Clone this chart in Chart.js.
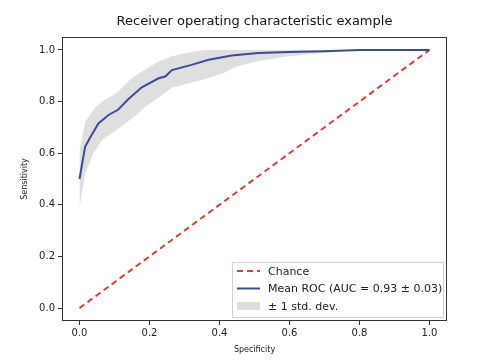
<!DOCTYPE html>
<html lang="en">
<head>
  <meta charset="UTF-8">
  <title>ROC example</title>
  <script src="https://cdn.jsdelivr.net/npm/chart.js"></script>
  <style>
    html, body { margin: 0; padding: 0; background: #fff; }
    #wrap { width: 497px; height: 361px; }
  </style>
</head>
<body>
  <div id="wrap"><canvas id="roc"></canvas></div>

  <script>
    // mean ROC curve
    const meanX = [0, 0.016, 0.03, 0.054, 0.083, 0.11, 0.14, 0.178, 0.226, 0.245, 0.264, 0.32, 0.369, 0.435, 0.511, 0.6, 0.7, 0.8, 1.0];
    const meanY = [0.50, 0.625, 0.66, 0.715, 0.748, 0.768, 0.81, 0.855, 0.89, 0.897, 0.922, 0.942, 0.962, 0.978, 0.988, 0.992, 0.995, 1.0, 1.0];

    // +/- 1 std band
    const bandX = [0, 0.016, 0.04, 0.064, 0.09, 0.111, 0.14, 0.169, 0.188, 0.226, 0.264, 0.31, 0.36, 0.41, 0.454, 0.511, 0.6, 0.7, 0.8, 1.0];
    const bandUpper = [0.61, 0.72, 0.77, 0.80, 0.82, 0.84, 0.88, 0.91, 0.925, 0.955, 0.975, 0.99, 1, 1, 1, 1, 1, 1, 1, 1];
    const bandLower = [0.39, 0.52, 0.60, 0.65, 0.675, 0.695, 0.725, 0.756, 0.78, 0.815, 0.853, 0.87, 0.887, 0.91, 0.938, 0.957, 0.975, 0.99, 1.0, 1.0];

    const chanceX = [0, 1];
    const chanceY = [0, 1];

    const xTicks = [0, 0.2, 0.4, 0.6, 0.8, 1.0];
    const yTicks = [0, 0.2, 0.4, 0.6, 0.8, 1.0];

    const TITLE = 'Receiver operating characteristic example';

    const pts = (xs, ys) => xs.map((x, i) => ({ x: x, y: ys[i] }));

    const FONT = "'DejaVu Sans', sans-serif";
    const RED = '#d9403a';
    const BLUE = '#3d4a9c';
    const GREY = 'rgba(150,150,150,0.3)';

    // frame, title and legend drawn like matplotlib
    const framePlugin = {
      id: 'frame',
      afterDraw(chart) {
        const a = chart.chartArea;
        const c = chart.ctx;
        c.save();
        c.strokeStyle = '#333';
        c.lineWidth = 1;
        c.strokeRect(a.left + 0.5, a.top + 0.5, a.right - a.left - 1, a.bottom - a.top - 1);

        // title centred over the axes
        c.font = '13px ' + FONT;
        c.fillStyle = '#111';
        c.textAlign = 'center';
        c.textBaseline = 'middle';
        c.fillText(TITLE, (a.left + a.right) / 2, 22);
        c.textAlign = 'left';

        // legend box
        const bx = 232, by = 262, bw = 211, bh = 55;
        c.fillStyle = 'rgba(255,255,255,0.85)';
        c.strokeStyle = '#d0d0d0';
        c.beginPath();
        c.rect(bx + 0.5, by + 0.5, bw, bh);
        c.fill();
        c.stroke();

        c.font = '11px ' + FONT;
        c.textBaseline = 'middle';
        const rows = chart.data.datasets.filter(d => d.legendRow !== undefined)
          .sort((p, q) => p.legendRow - q.legendRow);
        rows.forEach((d, i) => {
          const y = by + 9 + i * 17.5;
          if (d.legendKind === 'patch') {
            c.fillStyle = '#dedede';
            c.fillRect(bx + 5, y - 4, 23, 8);
          } else {
            c.strokeStyle = d.borderColor;
            c.lineWidth = 2;
            c.setLineDash(d.borderDash || []);
            c.beginPath();
            c.moveTo(bx + 5, y);
            c.lineTo(bx + 28, y);
            c.stroke();
            c.setLineDash([]);
          }
          c.fillStyle = '#222';
          c.fillText(d.label, bx + 36, y + 1);
        });
        c.restore();
      }
    };

    new Chart(document.getElementById('roc'), {
      type: 'scatter',
      data: {
        datasets: [
          {
            label: '± 1 std. dev.',
            data: pts(bandX, bandUpper),
            showLine: true,
            borderWidth: 0,
            borderColor: 'rgba(0,0,0,0)',
            backgroundColor: GREY,
            pointRadius: 0,
            fill: 1,
            legendRow: 2,
            legendKind: 'patch',
            order: 3
          },
          {
            label: 'lower',
            data: pts(bandX, bandLower),
            showLine: true,
            borderWidth: 0,
            borderColor: 'rgba(0,0,0,0)',
            pointRadius: 0,
            fill: false,
            order: 3
          },
          {
            label: 'Chance',
            data: pts(chanceX, chanceY),
            showLine: true,
            borderColor: RED,
            borderWidth: 2,
            borderDash: [6, 4],
            pointRadius: 0,
            fill: false,
            legendRow: 0,
            order: 2
          },
          {
            label: 'Mean ROC (AUC = 0.93 ± 0.03)',
            data: pts(meanX, meanY),
            showLine: true,
            borderColor: BLUE,
            borderWidth: 2,
            pointRadius: 0,
            fill: false,
            legendRow: 1,
            order: 1
          }
        ]
      },
      options: {
        responsive: true,
        maintainAspectRatio: false,
        animation: false,
        layout: { padding: { left: 0, right: 50, top: 37, bottom: 0 } },
        plugins: {
          legend: { display: false },
          tooltip: { enabled: false },
          title: { display: false }
        },
        scales: {
          x: {
            type: 'linear',
            min: -0.05,
            max: 1.05,
            afterBuildTicks: s => { s.ticks = xTicks.map(v => ({ value: v })); },
            afterFit: s => { s.height = 40; },
            grid: { drawOnChartArea: false, drawTicks: true, tickLength: 4, color: '#333' },
            border: { display: false },
            ticks: {
              color: '#222',
              padding: 2,
              font: { family: FONT, size: 10 },
              callback: v => v.toFixed(1)
            },
            title: {
              display: true,
              text: 'Specificity',
              color: '#222',
              font: { family: FONT, size: 8 },
              padding: { top: 2, bottom: 6 }
            }
          },
          y: {
            type: 'linear',
            min: -0.05,
            max: 1.05,
            afterBuildTicks: s => { s.ticks = yTicks.map(v => ({ value: v })); },
            afterFit: s => { s.width = 62; },
            grid: { drawOnChartArea: false, drawTicks: true, tickLength: 4, color: '#333' },
            border: { display: false },
            ticks: {
              color: '#222',
              padding: 3,
              font: { family: FONT, size: 10 },
              callback: v => v.toFixed(1)
            },
            title: {
              display: true,
              text: 'Sensitivity',
              color: '#222',
              font: { family: FONT, size: 8 },
              padding: { top: 20, bottom: 4 }
            }
          }
        }
      },
      plugins: [framePlugin]
    });
  </script>
</body>
</html>
